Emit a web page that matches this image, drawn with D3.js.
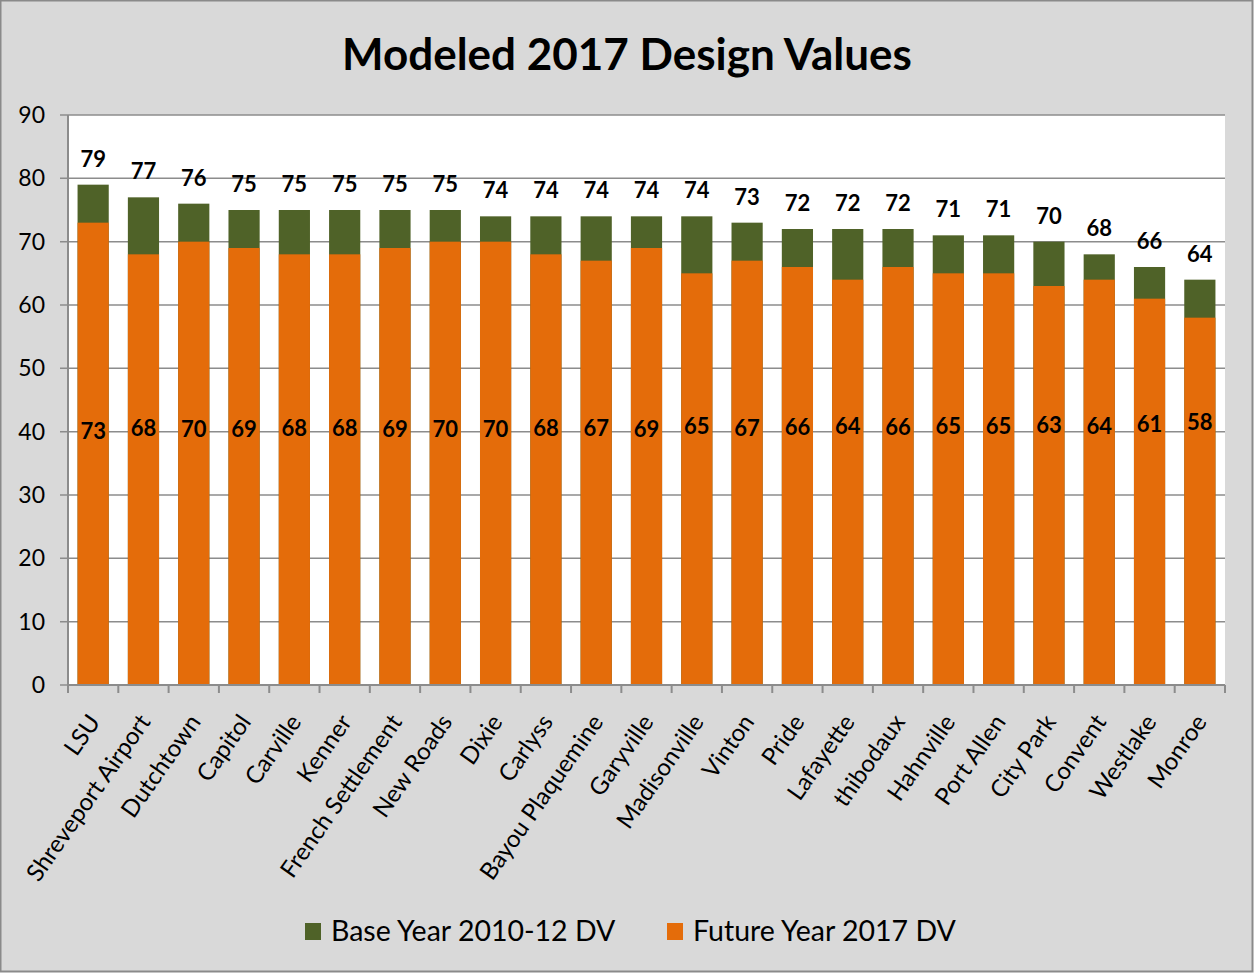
<!DOCTYPE html>
<html><head><meta charset="utf-8">
<script src="https://cdn.jsdelivr.net/npm/d3@7"></script>
<style>body{margin:0;background:#fff}svg{display:block}text{font-family:Lato,"Open Sans",sans-serif}</style>
</head><body>
<svg id="c" width="1254" height="973"></svg>
<script>
const categories = ["LSU","Shreveport Airport","Dutchtown","Capitol","Carville","Kenner","French Settlement","New Roads","Dixie","Carlyss","Bayou Plaquemine","Garyville","Madisonville","Vinton","Pride","Lafayette","thibodaux","Hahnville","Port Allen","City Park","Convent","Westlake","Monroe"];
const baseYear = [79,77,76,75,75,75,75,75,74,74,74,74,74,73,72,72,72,71,71,70,68,66,64];
const futureYear = [73,68,70,69,68,68,69,70,70,68,67,69,65,67,66,64,66,65,65,63,64,61,58];
const yTicks = [0,10,20,30,40,50,60,70,80,90];
const seriesNames = ["Base Year 2010-12 DV","Future Year 2017 DV"];
const colors = {base:"#4f6228", future:"#e46c0a"};

const svg = d3.select("#c");
const W=1254,H=973;
svg.append("rect").attr("x",0.5).attr("y",0.5).attr("width",W-2).attr("height",H-2).attr("fill","#d9d9d9").attr("stroke","#8a8a8a").attr("stroke-width",2);

const L=68,R=1225,T=115,B=685;
const x = d3.scaleBand().domain(categories).range([L,R]).paddingInner(0.38).paddingOuter(0.19);
const y = d3.scaleLinear().domain([0,90]).range([B,T]);

svg.append("rect").attr("x",L).attr("y",T).attr("width",R-L).attr("height",B-T).attr("fill","#fff");

// gridlines
svg.append("g").selectAll("line").data(yTicks).join("line")
  .attr("x1",L-8).attr("x2",R).attr("y1",d=>y(d)).attr("y2",d=>y(d))
  .attr("stroke","#8c8c8c").attr("stroke-width",1.5);

// y labels
svg.append("g").selectAll("text").data(yTicks).join("text")
  .attr("x",45).attr("y",d=>y(d)).attr("dy","0.35em").attr("text-anchor","end")
  .attr("font-size",23).attr("fill","#000").text(d=>d);

// bars
const g = svg.append("g");
g.selectAll("rect.b").data(categories).join("rect").attr("class","b")
  .attr("x",d=>x(d)).attr("width",x.bandwidth())
  .attr("y",(d,i)=>y(baseYear[i])).attr("height",(d,i)=>B-y(baseYear[i]))
  .attr("fill",colors.base);
g.selectAll("rect.f").data(categories).join("rect").attr("class","f")
  .attr("x",d=>x(d)).attr("width",x.bandwidth())
  .attr("y",(d,i)=>y(futureYear[i])).attr("height",(d,i)=>B-y(futureYear[i]))
  .attr("fill",colors.future);

// axes lines
svg.append("line").attr("x1",L).attr("x2",L).attr("y1",T).attr("y2",B).attr("stroke","#8c8c8c").attr("stroke-width",2);
svg.append("line").attr("x1",L).attr("x2",R).attr("y1",B).attr("y2",B).attr("stroke","#8c8c8c").attr("stroke-width",2);
const bounds = d3.range(categories.length+1).map(i=>L+ (R-L)*i/categories.length);
svg.append("g").selectAll("line").data(bounds).join("line")
  .attr("x1",d=>d).attr("x2",d=>d).attr("y1",B).attr("y2",B+8)
  .attr("stroke","#8c8c8c").attr("stroke-width",2);

// labels
svg.append("g").selectAll("text").data(categories).join("text")
  .attr("text-anchor","middle").attr("font-size",22).attr("font-weight","bold")
  .attr("x",d=>x(d)+x.bandwidth()/2).attr("y",(d,i)=>y(baseYear[i])-18)
  .text((d,i)=>baseYear[i]);
svg.append("g").selectAll("text").data(categories).join("text")
  .attr("text-anchor","middle").attr("font-size",22).attr("font-weight","bold")
  .attr("x",d=>x(d)+x.bandwidth()/2).attr("y",(d,i)=>y(40+(73-futureYear[i])*0.1)).attr("dy","0.35em")
  .text((d,i)=>futureYear[i]);

// x labels
svg.append("g").selectAll("text").data(categories).join("text")
  .attr("text-anchor","end").attr("font-size",24)
  .attr("transform",d=>`translate(${x(d)+x.bandwidth()/2+8},${B+37}) rotate(-55)`)
  .text(d=>d);

// title
svg.append("text").attr("x",627).attr("y",70).attr("text-anchor","middle")
  .attr("font-size",44).attr("font-weight","bold").text("Modeled 2017 Design Values");

// legend
const leg = [{n:seriesNames[0],c:colors.base,x:305},{n:seriesNames[1],c:colors.future,x:667}];
const lg = svg.append("g").selectAll("g").data(leg).join("g");
lg.append("rect").attr("x",d=>d.x).attr("y",923).attr("width",16).attr("height",17).attr("fill",d=>d.c);
lg.append("text").attr("x",d=>d.x+26).attr("y",941).attr("font-size",28.5).text(d=>d.n);
</script>
</body></html>
